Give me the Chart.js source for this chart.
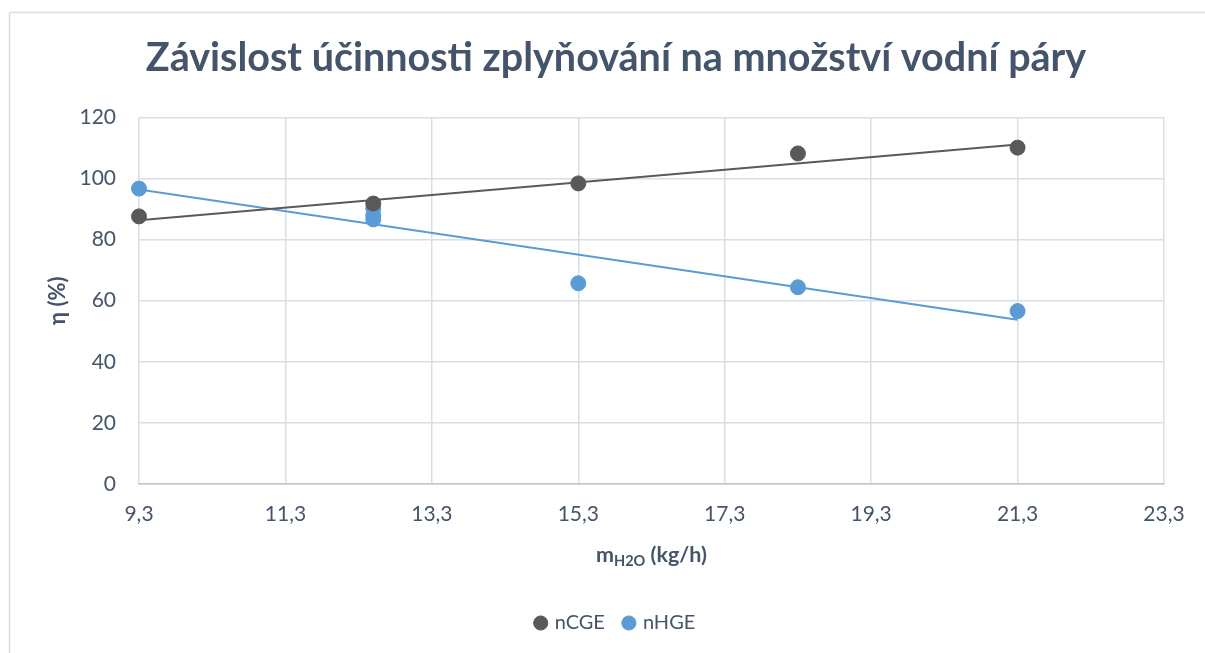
<!DOCTYPE html>
<html>
<head>
<meta charset="utf-8">
<script src="https://cdn.jsdelivr.net/npm/chart.js@4"></script>
<style>
  body { margin: 0; background: #fff; }
  #wrap { width: 1205px; height: 653px; position: relative; }
</style>
</head>
<body>
<div id="wrap"><canvas id="chart"></canvas></div>
<script>
// values
const xTicks = [9.3, 11.3, 13.3, 15.3, 17.3, 19.3, 21.3, 23.3];
const cgeX = [9.3, 12.5, 15.3, 18.3, 21.3];
const cgeY = [87.6, 91.8, 98.4, 108.2, 110.1];
const hgeX = [9.3, 12.5, 12.5, 12.5, 15.3, 18.3, 21.3];
const hgeY = [96.7, 90.2, 87.9, 86.6, 65.7, 64.4, 56.6];
// trendline end points
const cgeTrendX = [9.3, 21.3];
const cgeTrendY = [86.3, 111.1];
const hgeTrendX = [9.3, 21.3];
const hgeTrendY = [96.4, 53.8];

const GRAY = '#595959';
const BLUE = '#5B9BD5';
const TEXT = '#44546A';
const FONT = 'Lato';

const pts = (xs, ys) => xs.map((x, i) => ({ x: x, y: ys[i] }));

// frame round the chart
const framePlugin = {
  id: 'frame',
  beforeDraw(chart) {
    const ctx = chart.ctx;
    ctx.save();
    ctx.strokeStyle = '#d9dee6';
    ctx.lineWidth = 1.5;
    ctx.strokeRect(9.5, 12.5, 1400, 1000);
    ctx.restore();
  }
};

// x axis title with subscript
const xTitlePlugin = {
  id: 'xTitle',
  afterDraw(chart) {
    const ctx = chart.ctx;
    const area = chart.chartArea;
    const cx = (area.left + area.right) / 2;
    const y = 562;
    const parts = [
      { t: 'm', f: 'bold 21.5px ' + FONT, dy: 0 },
      { t: 'H2O', f: 'bold 14.5px ' + FONT, dy: 4 },
      { t: ' (kg/h)', f: 'bold 21.5px ' + FONT, dy: 0 }
    ];
    ctx.save();
    ctx.fillStyle = TEXT;
    ctx.textBaseline = 'alphabetic';
    let w = 0;
    parts.forEach(p => { ctx.font = p.f; p.w = ctx.measureText(p.t).width; w += p.w; });
    let x = cx - w / 2;
    parts.forEach(p => { ctx.font = p.f; ctx.fillText(p.t, x, y + p.dy); x += p.w; });
    ctx.restore();
  }
};

new Chart(document.getElementById('chart'), {
  type: 'scatter',
  data: {
    datasets: [
      {
        label: 'nCGE',
        data: pts(cgeX, cgeY),
        backgroundColor: GRAY,
        borderColor: GRAY,
        pointRadius: 7.5,
        pointHoverRadius: 7.5,
        clip: false
      },
      {
        label: 'nHGE',
        data: pts(hgeX, hgeY),
        backgroundColor: BLUE,
        borderColor: BLUE,
        pointRadius: 7.5,
        pointHoverRadius: 7.5,
        clip: false
      },
      {
        label: 'trendCGE',
        type: 'line',
        data: pts(cgeTrendX, cgeTrendY),
        borderColor: GRAY,
        borderWidth: 2,
        pointRadius: 0,
        fill: false
      },
      {
        label: 'trendHGE',
        type: 'line',
        data: pts(hgeTrendX, hgeTrendY),
        borderColor: BLUE,
        borderWidth: 2,
        pointRadius: 0,
        fill: false
      }
    ]
  },
  options: {
    responsive: true,
    maintainAspectRatio: false,
    animation: false,
    // left padding shifts the legend so it sits where Excel put it
    layout: { padding: { left: 68, right: 41, top: 0, bottom: 10 } },
    plugins: {
      title: {
        display: true,
        text: 'Závislost účinnosti zplyňování na množství vodní páry',
        color: TEXT,
        font: { family: FONT, size: 39.5, weight: 'bold' },
        padding: { top: 35, bottom: 35 }
      },
      legend: {
        position: 'bottom',
        labels: {
          usePointStyle: true,
          pointStyle: 'circle',
          boxWidth: 8,
          boxHeight: 10,
          padding: 20,
          color: TEXT,
          font: { family: FONT, size: 20 },
          filter: item => !item.text.startsWith('trend')
        }
      },
      tooltip: { enabled: false }
    },
    scales: {
      x: {
        type: 'linear',
        min: 9.3,
        max: 23.3,
        afterBuildTicks: scale => { scale.ticks = xTicks.map(v => ({ value: v })); },
        afterFit: scale => { scale.height = 109; },
        ticks: {
          color: TEXT,
          font: { family: FONT, size: 21 },
          padding: 18,
          callback: v => v.toFixed(1).replace('.', ',')
        },
        grid: { color: '#d9dee6', lineWidth: 1.5, drawTicks: false },
        border: { color: '#bfc6d2', width: 1.5 }
      },
      y: {
        min: 0,
        max: 120,
        afterFit: scale => { scale.width = 71; },
        ticks: {
          stepSize: 20,
          color: TEXT,
          font: { family: FONT, size: 21 },
          padding: 23
        },
        title: {
          display: true,
          text: 'η (%)',
          color: TEXT,
          font: { family: FONT, size: 22, weight: 'bold' },
          padding: { top: -23, bottom: 0 }
        },
        grid: { color: '#d9dee6', lineWidth: 1.5, drawTicks: false },
        border: { display: false }
      }
    }
  },
  plugins: [framePlugin, xTitlePlugin]
});
</script>
</body>
</html>
